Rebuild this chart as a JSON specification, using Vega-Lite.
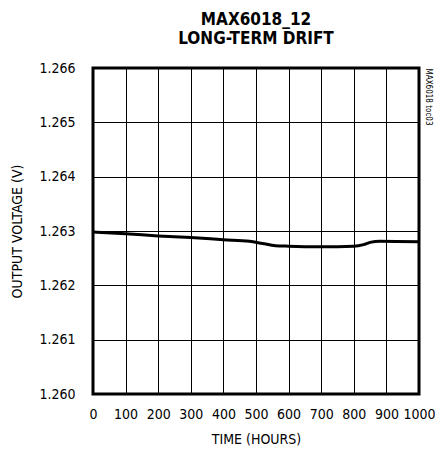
{
  "$schema": "https://vega.github.io/schema/vega-lite/v6.json",
  "description": "MAX6018_12 long-term drift of output voltage.",
  "autosize": {"type": "none"},
  "padding": {"left": 93, "top": 68, "right": 26, "bottom": 58},
  "width": 326,
  "height": 326,
  "background": "white",
  "title": {
    "text": ["MAX6018_12", "LONG-TERM DRIFT"],
    "font": "'Liberation Sans Narrow', 'DejaVu Sans Condensed', Roboto, sans-serif",
    "fontSize": 17,
    "fontWeight": "bold",
    "lineHeight": 19,
    "color": "black",
    "anchor": "middle",
    "offset": 13
  },
  "config": {
    "view": {"stroke": "black", "strokeWidth": 3},
    "axis": {
      "labelFont": "'Liberation Sans Narrow', 'DejaVu Sans Condensed', Roboto, sans-serif",
      "labelFontSize": 14,
      "labelColor": "black",
      "titleFont": "'Liberation Sans Narrow', 'DejaVu Sans Condensed', Roboto, sans-serif",
      "titleFontSize": 14,
      "titleFontWeight": "normal",
      "titleColor": "black",
      "gridColor": "black",
      "gridOpacity": 1,
      "gridWidth": 1,
      "domain": false,
      "ticks": false
    }
  },
  "data": {
    "values": [
      {"hours": 0, "voltage": 1.26298},
      {"hours": 100, "voltage": 1.26295},
      {"hours": 200, "voltage": 1.26291},
      {"hours": 300, "voltage": 1.26288},
      {"hours": 400, "voltage": 1.26284},
      {"hours": 480, "voltage": 1.26281},
      {"hours": 520, "voltage": 1.26277},
      {"hours": 560, "voltage": 1.26273},
      {"hours": 600, "voltage": 1.26272},
      {"hours": 700, "voltage": 1.26271},
      {"hours": 800, "voltage": 1.26272},
      {"hours": 830, "voltage": 1.26275},
      {"hours": 850, "voltage": 1.26279},
      {"hours": 880, "voltage": 1.26281},
      {"hours": 1000, "voltage": 1.2628}
    ]
  },
  "encoding": {
    "x": {
      "field": "hours",
      "type": "quantitative",
      "scale": {"domain": [0, 1000], "nice": false},
      "axis": {
        "title": "TIME (HOURS)",
        "values": [0, 100, 200, 300, 400, 500, 600, 700, 800, 900, 1000],
        "format": "d",
        "labelFlush": false,
        "labelPadding": 13,
        "titlePadding": 11
      }
    }
  },
  "layer": [
    {
      "mark": {"type": "line", "color": "black", "strokeWidth": 3, "interpolate": "monotone"},
      "encoding": {
        "y": {
          "field": "voltage",
          "type": "quantitative",
          "scale": {"domain": [1.26, 1.266], "nice": false, "zero": false},
          "axis": {
            "title": "OUTPUT VOLTAGE (V)",
            "values": [1.26, 1.261, 1.262, 1.263, 1.264, 1.265, 1.266],
            "format": ".3f",
            "labelFlush": false,
            "labelPadding": 18,
            "titlePadding": 14
          }
        }
      }
    },
    {
      "mark": {"type": "line", "opacity": 0},
      "encoding": {
        "y": {
          "field": "voltage",
          "type": "quantitative",
          "axis": {
            "orient": "right",
            "title": "MAX6018 toc03",
            "titleFontSize": 8,
            "titleAngle": 90,
            "titleAnchor": "end",
            "titleAlign": "left",
            "titleBaseline": "bottom",
            "titlePadding": 4,
            "labels": false,
            "grid": false,
            "values": []
          }
        }
      }
    }
  ],
  "resolve": {"axis": {"y": "independent"}}
}
